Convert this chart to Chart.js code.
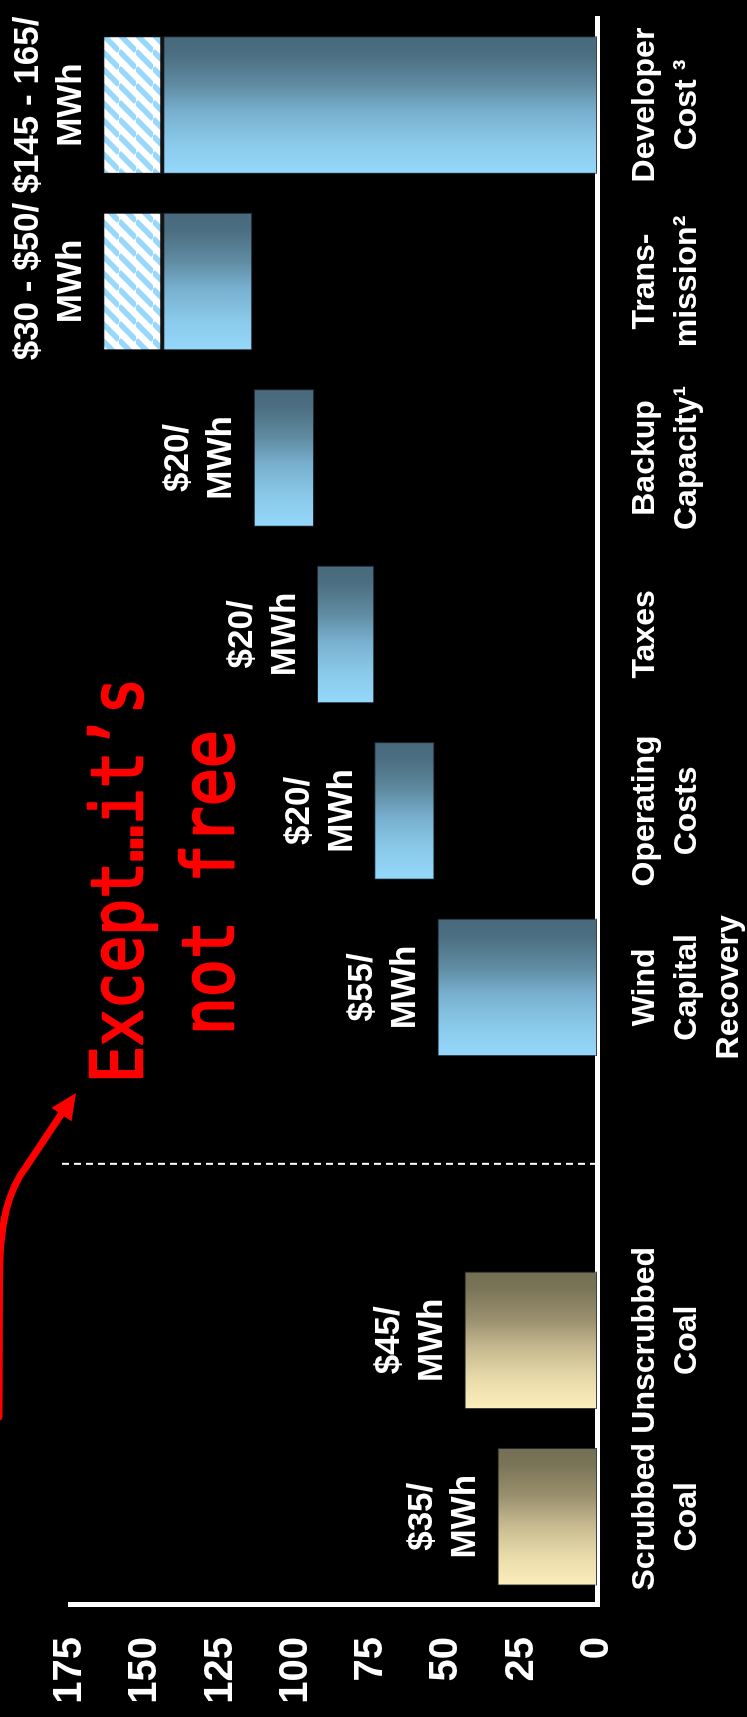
<!DOCTYPE html>
<html lang="en">
<head>
  <meta charset="UTF-8">
  <title>Wind cost build-up</title>
  <style>
    html, body { margin: 0; padding: 0; background: #000; width: 747px; height: 1717px; overflow: hidden; }
    /* chart is drawn landscape, then turned a quarter left like the slide */
    #turn { position: absolute; left: 0; top: 0; width: 1717px; height: 747px;
            transform-origin: 0 0; transform: translateY(1717px) rotate(-90deg); }
  </style>
</head>
<body>
  <div id="turn"><canvas id="costChart" width="1717" height="747"></canvas></div>

  <script src="https://cdn.jsdelivr.net/npm/chart.js"></script>
  <script>
    // Data ($/MWh)
    const categories = [
      ['Scrubbed', 'Coal'], ['Unscrubbed', 'Coal'], '',
      ['Wind', 'Capital', 'Recovery'], ['Operating', 'Costs'], ['Taxes'],
      ['Backup', 'Capacity¹'], ['Trans-', 'mission²'], ['Developer', 'Cost ³']
    ];
    const barLow   = [0, 0, null, 0, 54, 74, 94, 114.5, 0];
    const barHigh  = [33, 44, null, 53, 74, 93, 114, 144, 144];
    const rangeLow  = [null, null, null, null, null, null, null, 144, 144];
    const rangeHigh = [null, null, null, null, null, null, null, 164, 164];
    const valueLabels = [
      ['$35/', 'MWh'], ['$45/', 'MWh'], null, ['$55/', 'MWh'],
      ['$20/', 'MWh'], ['$20/', 'MWh'], ['$20/', 'MWh'],
      ['$30 - $50/', 'MWh'], ['$145 - 165/', 'MWh']
    ];
    const valueTicks = [0, 25, 50, 75, 100, 125, 150, 175];
    const coalCount = 2;

    const FONT = '"Liberation Sans", Arial, sans-serif';
    const BAR_SHARE = 0.78;

    const coalStops = [[0, '#746e53'], [0.12, '#7a7457'], [0.35, '#9a906e'], [0.55, '#c4b88e'], [0.78, '#e8dbaa'], [1, '#fdefbc']];
    const windStops = [[0, '#486a7c'], [0.12, '#4b6d80'], [0.35, '#5f8ba1'], [0.55, '#78b0cf'], [0.78, '#8ac9ea'], [1, '#95d8fb']];

    // gradient runs across each bar's width, dark on the right edge
    function barFill(ctx) {
      const chart = ctx.chart;
      const xs = chart.scales.x;
      const stops = ctx.dataIndex < coalCount ? coalStops : windStops;
      if (!xs || !xs.width) return stops[3][1];
      const cx = xs.getPixelForValue(ctx.dataIndex);
      const half = xs.width / categories.length * BAR_SHARE / 2;
      const g = chart.ctx.createLinearGradient(cx + half, 0, cx - half, 0);
      stops.forEach(s => g.addColorStop(s[0], s[1]));
      return g;
    }

    function hatch() {
      const c = document.createElement('canvas');
      c.width = 17; c.height = 17;
      const p = c.getContext('2d');
      p.fillStyle = '#ffffff';
      p.fillRect(0, 0, 17, 17);
      p.strokeStyle = '#98d8fa';
      p.lineWidth = 5.5;
      [-17, 0, 17].forEach(o => {
        p.beginPath();
        p.moveTo(o, 17);
        p.lineTo(o + 17, 0);
        p.stroke();
      });
      return p.createPattern(c, 'repeat');
    }

    // callout text: [text, left ink edge, right ink edge, baseline]
    const callout = [['Except…it’s', 639, 1034, 142], ['not free', 687, 984, 233]];

    const extras = {
      id: 'extras',
      afterDatasetsDraw(chart) {
        const { ctx, scales: { x, y } } = chart;
        ctx.save();

        // divider between coal and wind
        const dx = x.getPixelForValue(2);
        ctx.strokeStyle = '#fff';
        ctx.lineWidth = 2;
        ctx.setLineDash([7, 5]);
        ctx.beginPath();
        ctx.moveTo(dx, y.getPixelForValue(0));
        ctx.lineTo(dx, y.getPixelForValue(178));
        ctx.stroke();
        ctx.setLineDash([]);

        // value labels above the bars
        ctx.fillStyle = '#fff';
        ctx.font = 'bold 35px ' + FONT;
        ctx.textAlign = 'center';
        ctx.textBaseline = 'middle';
        valueLabels.forEach((lines, i) => {
          if (!lines) return;
          const top = y.getPixelForValue(rangeHigh[i] !== null ? rangeHigh[i] : barHigh[i]);
          const cx = x.getPixelForValue(i);
          ctx.fillText(lines[0], cx, top - 75);
          ctx.fillText(lines[1], cx, top - 32);
        });

        // red callout, squeezed to the slide's width
        ctx.fillStyle = '#ff0000';
        ctx.strokeStyle = '#ff0000';
        ctx.lineWidth = 2.4;
        ctx.lineJoin = 'round';
        ctx.font = '72px "DejaVu Sans Mono", monospace';
        ctx.textAlign = 'left';
        ctx.textBaseline = 'alphabetic';
        callout.forEach(([t, x0, x1, base]) => {
          const m = ctx.measureText(t);
          const ink = m.actualBoundingBoxLeft + m.actualBoundingBoxRight;
          const k = (x1 - x0) / ink;
          ctx.save();
          ctx.translate(x0, base);
          ctx.scale(k, 1);
          ctx.fillText(t, m.actualBoundingBoxLeft, 0);
          ctx.strokeText(t, m.actualBoundingBoxLeft, 0);
          ctx.restore();
        });

        // red arrow
        const tip = [624, 76], from = [550, 26];
        ctx.strokeStyle = '#ff0000';
        ctx.lineWidth = 7;
        ctx.lineCap = 'round';
        ctx.beginPath();
        ctx.moveTo(300, -1);
        ctx.lineTo(440, -0.5);
        ctx.bezierCurveTo(495, 0, 526, 8, 550, 26);
        ctx.lineTo(604, 62);
        ctx.stroke();
        const len = Math.hypot(tip[0] - from[0], tip[1] - from[1]);
        const ux = (tip[0] - from[0]) / len, uy = (tip[1] - from[1]) / len;
        const bx = tip[0] - 26 * ux, by = tip[1] - 26 * uy;
        ctx.fillStyle = '#ff0000';
        ctx.beginPath();
        ctx.moveTo(tip[0], tip[1]);
        ctx.lineTo(bx - 12 * uy, by + 12 * ux);
        ctx.lineTo(bx + 12 * uy, by - 12 * ux);
        ctx.closePath();
        ctx.fill();

        ctx.restore();
      }
    };

    Chart.defaults.font.family = FONT;
    Chart.defaults.color = '#fff';

    new Chart(document.getElementById('costChart'), {
      type: 'bar',
      data: {
        labels: categories,
        datasets: [
          {
            data: barLow.map((v, i) => v === null ? null : [v, barHigh[i]]),
            backgroundColor: barFill,
            borderColor: 'rgba(35,45,55,0.9)',
            borderWidth: 1,
            borderSkipped: false,
            grouped: false,
            barPercentage: BAR_SHARE,
            categoryPercentage: 1
          },
          {
            data: rangeLow.map((v, i) => v === null ? null : [v, rangeHigh[i]]),
            backgroundColor: hatch(),
            borderColor: '#111',
            borderWidth: { top: 1, left: 1, right: 1, bottom: 3 },
            borderSkipped: false,
            grouped: false,
            barPercentage: BAR_SHARE,
            categoryPercentage: 1
          }
        ]
      },
      options: {
        responsive: false,
        animation: false,
        devicePixelRatio: 1,
        layout: { padding: { top: 70, right: 12, left: 0, bottom: 0 } },
        plugins: { legend: { display: false }, tooltip: { enabled: false } },
        scales: {
          x: {
            z: 1,
            grid: { display: false, drawTicks: false },
            border: { color: '#fff', width: 5 },
            ticks: {
              color: '#fff',
              font: { size: 32, weight: 'bold', lineHeight: 1.31 },
              padding: 27,
              autoSkip: false,
              maxRotation: 0,
              minRotation: 0
            },
            afterFit: s => { s.height = 150; }
          },
          y: {
            min: 0,
            max: 175,
            grid: { display: false, drawTicks: false },
            border: { color: '#fff', width: 5 },
            ticks: { color: '#fff', font: { size: 40, weight: 'bold' }, padding: 32 },
            afterBuildTicks: s => { s.ticks = valueTicks.map(v => ({ value: v })); },
            afterFit: s => { s.width = 112; }
          }
        }
      },
      plugins: [extras]
    });
  </script>
</body>
</html>
